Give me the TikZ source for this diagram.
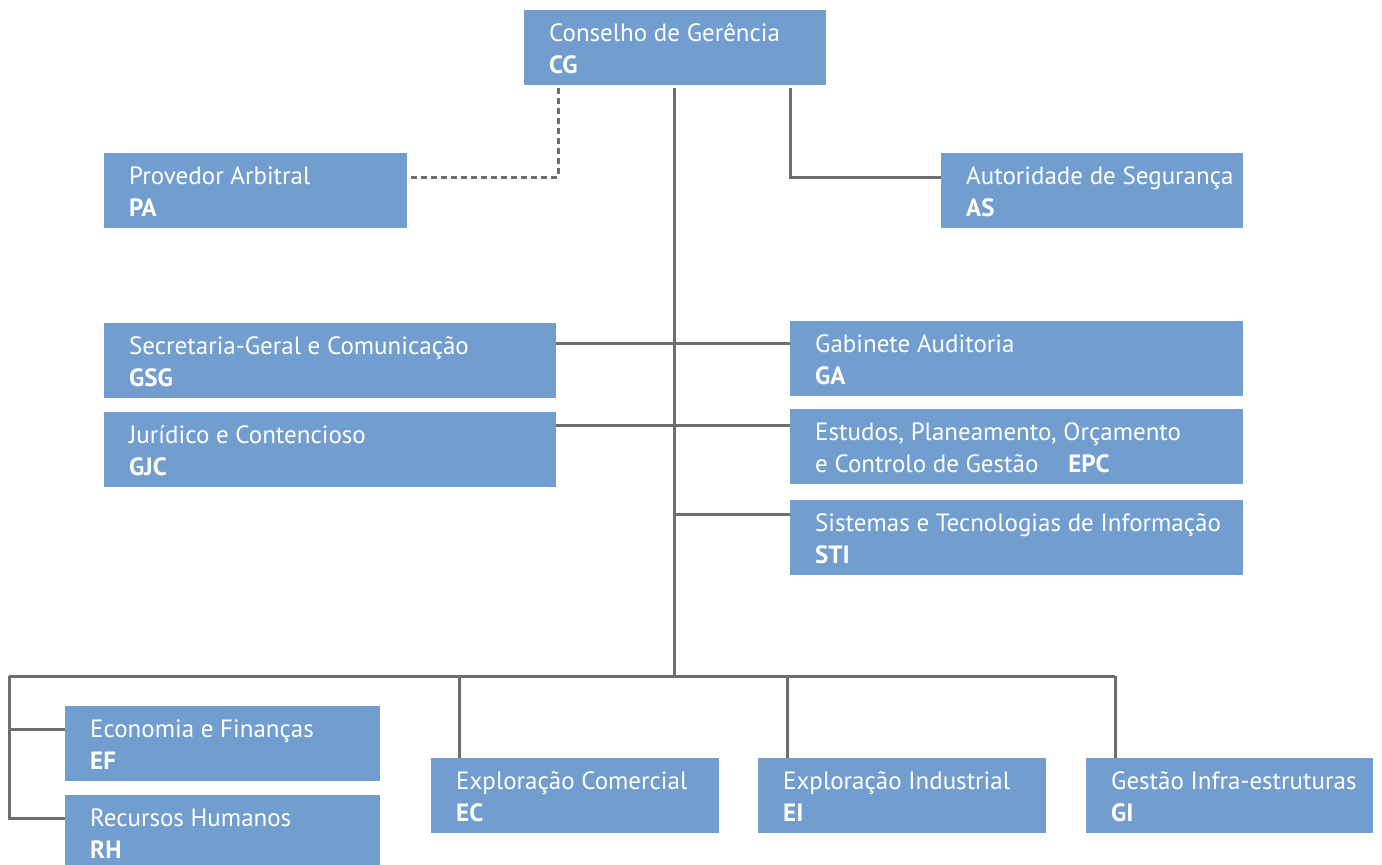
\documentclass[tikz,border=0pt]{standalone}
\usepackage{fontspec}
\setmainfont{PT Sans}
\definecolor{boxblue}{HTML}{719DCF}
\definecolor{linegray}{HTML}{6E6E6E}
\begin{document}
\begin{tikzpicture}[x=1pt,y=-1pt,
  orgbox/.style={fill=boxblue, anchor=north west, inner sep=0pt,
    minimum height=75pt},
  orgtext/.style={text=white, anchor=west, align=left, inner sep=0pt,
    font=\fontsize{25}{31.5}\selectfont},
  conn/.style={draw=linegray, line width=3pt},
  dotconn/.style={draw=linegray, line width=3pt, dash pattern=on 6pt off 4pt}]
\useasboundingbox (0,0) rectangle (1382,865);
\newcommand{\orgnode}[5]{\node[orgbox, minimum width=#4pt] (#1) at (#2,#3) {};
  \node[orgtext] (#1-t) at ([xshift=25pt,yshift=-1pt]#1.west) {#5};}
\orgnode{CG}{524}{10}{302}{Conselho de Gerência\\\textbf{CG}}
\orgnode{PA}{104}{153}{303}{Provedor Arbitral\\\textbf{PA}}
\orgnode{AS}{941}{153}{302}{Autoridade de Segurança\\\textbf{AS}}
\orgnode{GSG}{104}{323}{452}{Secretaria-Geral e Comunicação\\\textbf{GSG}}
\orgnode{GA}{790}{321}{453}{Gabinete Auditoria\\\textbf{GA}}
\orgnode{GJC}{104}{412}{452}{Jurídico e Contencioso\\\textbf{GJC}}
\orgnode{EPC}{790}{409}{453}{Estudos, Planeamento, Orçamento\\e Controlo de Gestão\hspace{30pt}\textbf{EPC}}
\orgnode{STI}{790}{500}{453}{Sistemas e Tecnologias de Informação\\\textbf{STI}}
\orgnode{EF}{65}{706}{315}{Economia e Finanças\\\textbf{EF}}
\orgnode{RH}{65}{795}{315}{Recursos Humanos\\\textbf{RH}}
\orgnode{EC}{431}{758}{288}{Exploração Comercial\\\textbf{EC}}
\orgnode{EI}{758}{758}{288}{Exploração Industrial\\\textbf{EI}}
\orgnode{GI}{1086}{758}{287}{Gestão Infra-estruturas\\\textbf{GI}}
% coordinates
\coordinate (trunkTop) at (674,88);
\coordinate (bus) at (674,676);
\coordinate (busL) at (9,676);
\coordinate (busR) at (1115,676);
% main trunk
\draw[conn] (trunkTop) -- (bus);
% PA dotted
\draw[dotconn] (558,88) -- (558,177) -- (PA.east |- 0,177);
% AS
\draw[conn] (790,88) -- (790,177) -- (AS.west |- 0,177);
% middle branches
\draw[conn] (GSG.east |- 0,343) -- (GA.west |- 0,343);
\draw[conn] (GJC.east |- 0,425) -- (EPC.west |- 0,425);
\draw[conn] (674,514) -- (STI.west |- 0,514);
% bottom bus
\draw[conn] (busL) -- (busR);
\draw[conn] (busL) -- (9,818) -- (RH.west |- 0,818);
\draw[conn] (9,729) -- (EF.west |- 0,729);
\draw[conn] (459,676) -- (EC.north -| 459,0);
\draw[conn] (787,676) -- (EI.north -| 787,0);
\draw[conn] (busR) -- (GI.north -| 1115,0);
\end{tikzpicture}
\end{document}
